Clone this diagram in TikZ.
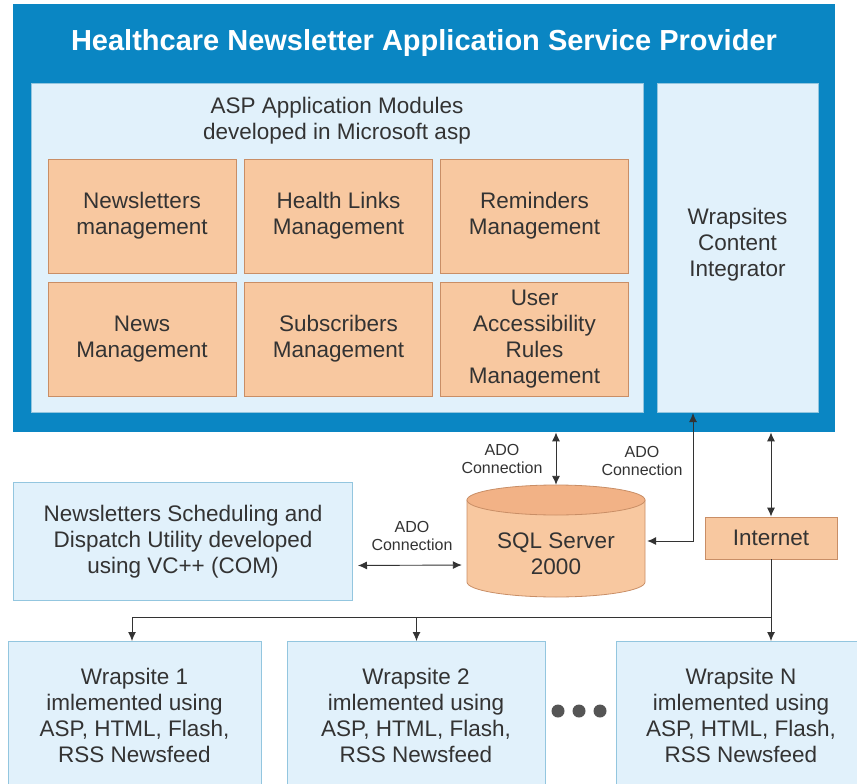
\documentclass[tikz,border=0pt]{standalone}
\usepackage{fontspec}
\setmainfont{Liberation Sans}
\usetikzlibrary{arrows.meta,calc}
\definecolor{aspblue}{HTML}{0A86C3}
\definecolor{panel}{HTML}{E1F1FB}
\definecolor{panelline}{HTML}{93C6DF}
\definecolor{orangefill}{HTML}{F8C8A0}
\definecolor{orangetop}{HTML}{F2B286}
\definecolor{orangeline}{HTML}{C98E66}
\definecolor{txt}{HTML}{333333}
\definecolor{dotgray}{HTML}{555555}
\begin{document}
\begin{tikzpicture}[x=1pt,y=-1pt,
  body/.style={font=\fontsize{22.5}{26}\selectfont, text=txt, align=center},
  lbl/.style={font=\fontsize{16}{18}\selectfont, text=txt, align=center},
  modbox/.style={draw=orangeline, fill=orangefill, line width=0.8pt, minimum width=188pt, minimum height=114pt, inner sep=0pt, body},
  bluebox/.style={draw=panelline, fill=panel, line width=1pt, inner sep=0pt, anchor=north west},
  ln/.style={draw=txt, line width=0.9pt},
  tip/.tip={Latex[length=9pt,width=8pt]},
  conn/.style={ln, tip-tip},
  down/.style={ln, -tip}]
\useasboundingbox (0,0) rectangle (857,784);
\clip (0,0) rectangle (857,784);
% outer provider block
\node[fill=aspblue, minimum width=822pt, minimum height=428pt, inner sep=0pt, anchor=north west] (asp) at (13,4) {};
\node[font=\fontsize{29}{34}\bfseries\selectfont, text=white] (title) at (424,43) {Healthcare Newsletter Application Service Provider};
\node[bluebox, minimum width=612pt, minimum height=329pt] (modpanel) at (31,83) {};
\node[bluebox, minimum width=161pt, minimum height=329pt] (wrappanel) at (657,83) {};
\node[body] (modhead) at (337,121) {ASP Application Modules\\developed in Microsoft asp};
\node[body] (wci) at (737.5,245) {Wrapsites\\Content\\Integrator};
% modules
\node[modbox] (m1) at (142,216) {Newsletters\\management};
\node[modbox] (m2) at (338.5,216) {Health Links\\Management};
\node[modbox] (m3) at (534.5,216) {Reminders\\Management};
\node[modbox] (m4) at (142,339) {News\\Management};
\node[modbox] (m5) at (338.5,339) {Subscribers\\Management};
\node[modbox] (m6) at (534.5,339) {User\\Accessibility\\Rules\\Management};
% scheduling utility
\node[bluebox, minimum width=339pt, minimum height=118pt] (sched) at (13,482) {};
\node[body] (schedtxt) at (sched.center) {Newsletters Scheduling and\\Dispatch Utility developed\\using VC++ (COM)};
% SQL server cylinder
\node[minimum width=178pt, minimum height=112pt, inner sep=0pt] (sql) at (556,541) {};
\path[fill=orangefill, draw=orangeline, line width=0.8pt]
  (467,500) -- (467,582) arc (180:360:89pt and 15pt) -- (645,500) -- cycle;
\draw[fill=orangetop, draw=orangeline, line width=0.8pt] (556,500) ellipse (89pt and 15pt);
\node[body] (sqltxt) at (556,554) {SQL Server\\2000};
% internet
\node[draw=orangeline, fill=orangefill, line width=0.8pt, minimum width=132pt, minimum height=42pt, inner sep=0pt, body] (internet) at (771,538) {Internet};
% wrapsites
\node[bluebox, minimum width=253pt, minimum height=160pt] (w1) at (8,641) {};
\node[bluebox, minimum width=258pt, minimum height=160pt] (w2) at (287,641) {};
\node[bluebox, minimum width=262pt, minimum height=160pt] (w3) at (616,641) {};
\node[body] (w1t) at (134.5,715) {Wrapsite 1\\imlemented using\\ASP, HTML, Flash,\\RSS Newsfeed};
\node[body] (w2t) at (416,715) {Wrapsite 2\\imlemented using\\ASP, HTML, Flash,\\RSS Newsfeed};
\node[body] (w3t) at (741,715) {Wrapsite N\\imlemented using\\ASP, HTML, Flash,\\RSS Newsfeed};
\fill[dotgray] (558,711) circle (6.5pt);
\fill[dotgray] (579,711) circle (6.5pt);
\fill[dotgray] (600,711) circle (6.5pt);
% connectors
\draw[conn] (sql.north |- asp.south) -- (sql.north);
\node[lbl] (l1) at (502,459) {ADO\\Connection};
\coordinate (bend) at (693,541);
\draw[conn] (wrappanel.south -| bend) -- (bend) -- ([xshift=2pt]sql.east);
\node[lbl] (l2) at (642,461) {ADO\\Connection};
\draw[conn] (internet.north |- asp.south) -- (internet.north);
\draw[conn, shorten <=5pt, shorten >=5pt] ($(sched.east)+(0,24)$) -- ($(sql.west)+(0,24)$);
\node[lbl] (l3) at (412,536) {ADO\\Connection};
\coordinate (bus) at (771,617);
\draw[down] (internet.south) -- (internet.south |- w3.north);
\draw[down] (bus) -| ([xshift=-3pt]w1.north);
\draw[down] (w2.north |- bus) -- (w2.north);
\end{tikzpicture}
\end{document}
